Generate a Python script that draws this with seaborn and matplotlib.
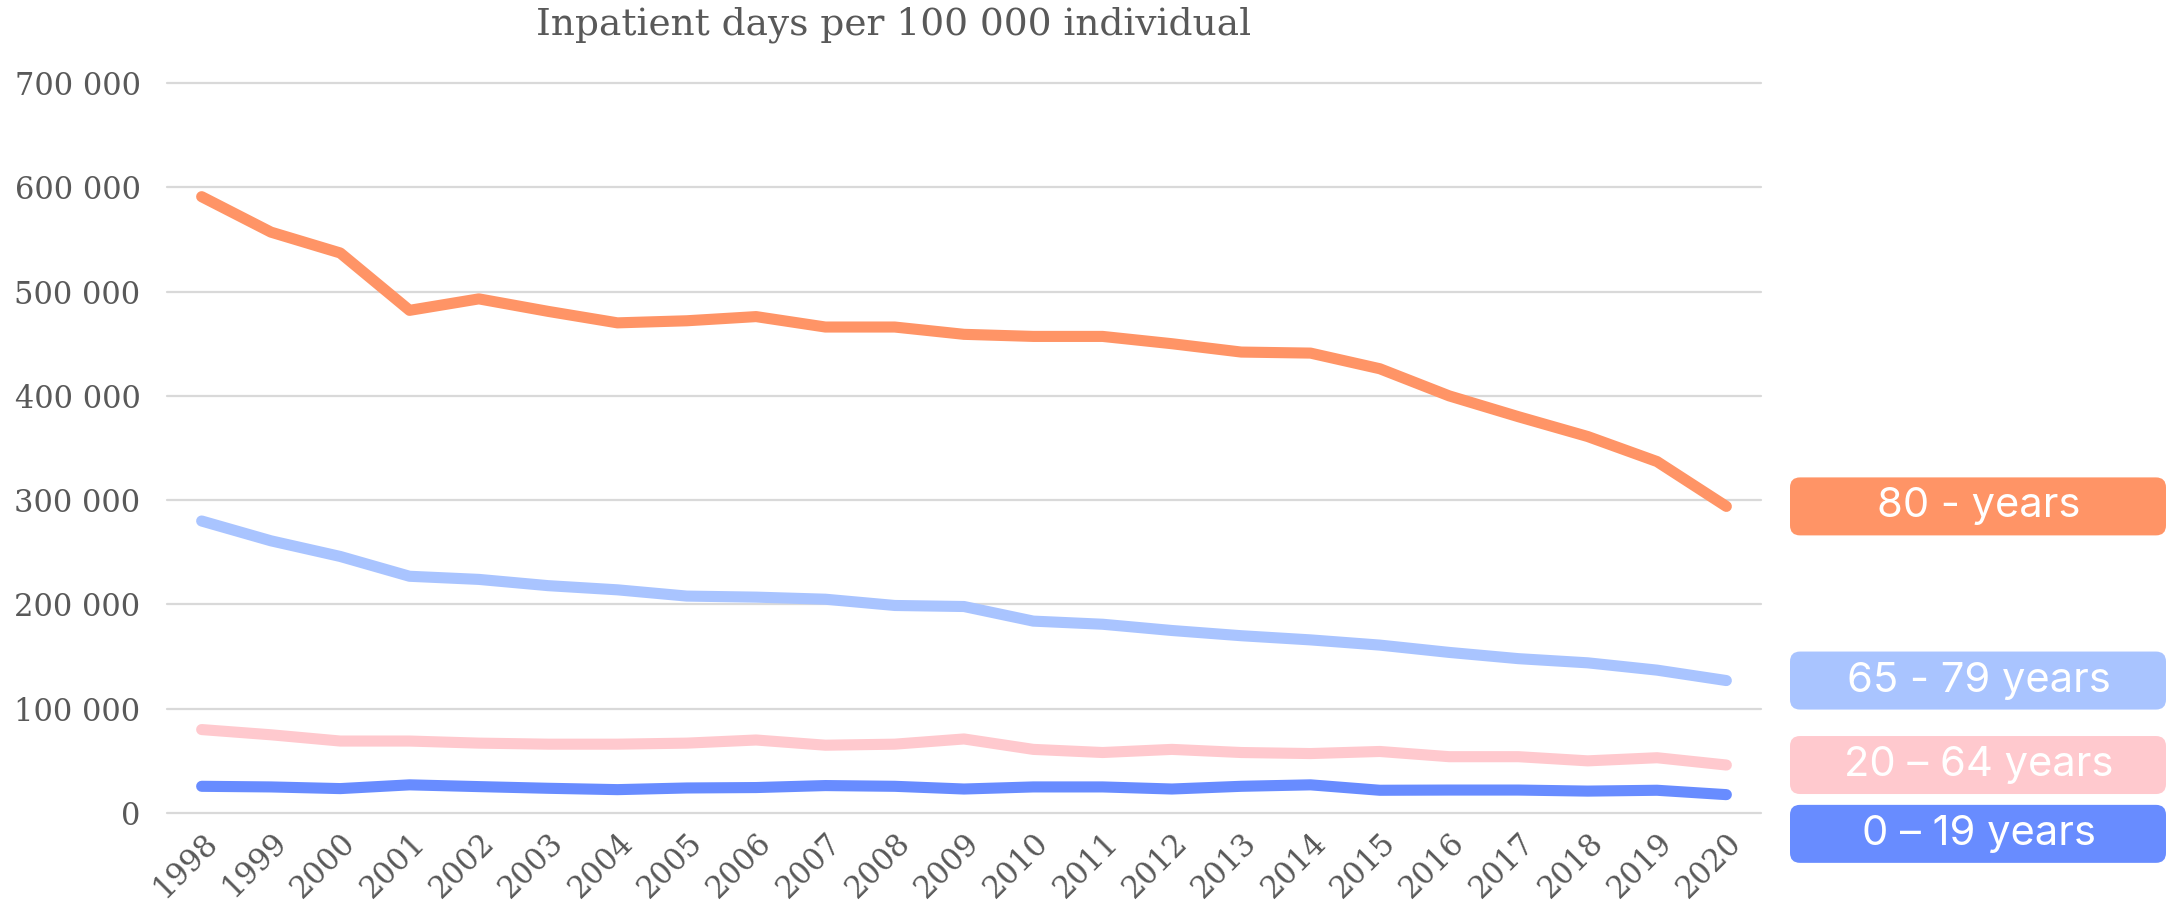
import numpy as np
import pandas as pd
import seaborn as sns
import matplotlib.pyplot as plt
from matplotlib.patches import FancyBboxPatch
from matplotlib.transforms import IdentityTransform
from matplotlib.ticker import FuncFormatter

# Inpatient days per 100 000 individuals
years = list(range(1998, 2021))
age_80_plus = [591000, 557000, 537000, 482000, 493000, 481000, 470000, 472000, 476000, 466000,
               466000, 459000, 457000, 457000, 450000, 442000, 441000, 426000, 400000, 380000,
               361000, 337000, 294000]
age_65_79 = [280000, 261000, 246000, 227000, 224000, 218000, 214000, 208000, 207000, 205000,
             199000, 198000, 184000, 181000, 175000, 170000, 166000, 161000, 154000, 148000,
             144000, 137000, 127000]
age_20_64 = [80000, 75000, 69000, 69000, 67000, 66000, 66000, 67000, 70000, 65000,
             66000, 71000, 61000, 58000, 61000, 58000, 57000, 59000, 54000, 54000,
             50000, 53000, 46000]
age_0_19 = [25600, 25000, 23400, 27000, 25300, 23700, 22400, 24000, 24400, 26300,
            25600, 23000, 25000, 25000, 23000, 25600, 27000, 21800, 22000, 22000,
            21000, 21800, 17600]

groups = ["80 - years", "65 - 79 years", "20 – 64 years", "0 – 19 years"]
colors = ["#FF9466", "#A9C4FF", "#FFC9CE", "#688CFF"]
series = [age_80_plus, age_65_79, age_20_64, age_0_19]

df = pd.concat([pd.DataFrame({"year": years, "days": s, "group": g})
                for g, s in zip(groups, series)], ignore_index=True)

sns.set_style("white")
plt.rcParams['font.family'] = ['DejaVu Serif']
grey = "#595959"

W, H = 2169, 907
fig = plt.figure(figsize=(W / 100, H / 100), dpi=100)
ax = fig.add_axes([167 / W, 94 / H, (1761 - 167) / W, (824 - 94) / H])

sns.lineplot(data=df, x="year", y="days", hue="group", hue_order=groups[::-1],
             palette=dict(zip(groups, colors)), linewidth=8, legend=False,
             estimator=None, errorbar=None, ax=ax)
for line in ax.lines:
    line.set_solid_capstyle("round")
    line.set_solid_joinstyle("round")

ax.set_xlim(years[0] - 0.5, years[-1] + 0.5)
ax.set_ylim(0, 700000)
ax.set_yticks(range(0, 700001, 100000))
ax.yaxis.set_major_formatter(FuncFormatter(lambda v, p: f"{v:,.0f}".replace(",", " ")))
ax.set_xticks(years)
ax.set_xticklabels([str(y) for y in years], rotation=45, ha="right", rotation_mode="anchor")
ax.set_xlabel("")
ax.set_ylabel("")
ax.tick_params(axis="y", length=0, pad=19, labelsize=22, labelcolor=grey)
ax.tick_params(axis="x", length=0, pad=10, labelsize=22, labelcolor=grey)
ax.yaxis.grid(True, color="#D9D9D9", linewidth=1.6)
ax.xaxis.grid(False)
for gl in ax.get_ygridlines():
    gl.set_clip_on(False)
ax.set_axisbelow(True)
sns.despine(ax=ax, left=True, bottom=True)

fig.text(894 / W, 1 - 25 / H, "Inpatient days per 100 000 individual",
         ha="center", va="center", fontsize=27, color=grey)

# end labels as coloured boxes, pushed apart when they would overlap
gap = 66000
label_y = []
for s in series:
    y = s[-1]
    if label_y:
        y = min(y, label_y[-1] - gap)
    label_y.append(y)

for g, c, y in zip(groups, colors, label_y):
    py = ax.transData.transform((years[-1], y))[1]
    box = FancyBboxPatch((1800, py - 19), 356, 38, boxstyle="round,pad=10,rounding_size=10",
                         transform=IdentityTransform(), facecolor=c, edgecolor="none")
    fig.add_artist(box)
    fig.text(1979, py, g, transform=IdentityTransform(), ha="center", va="center",
             fontsize=30, color="white", family=["Inter", "DejaVu Sans"])

fig.savefig("out.png", dpi=100)
